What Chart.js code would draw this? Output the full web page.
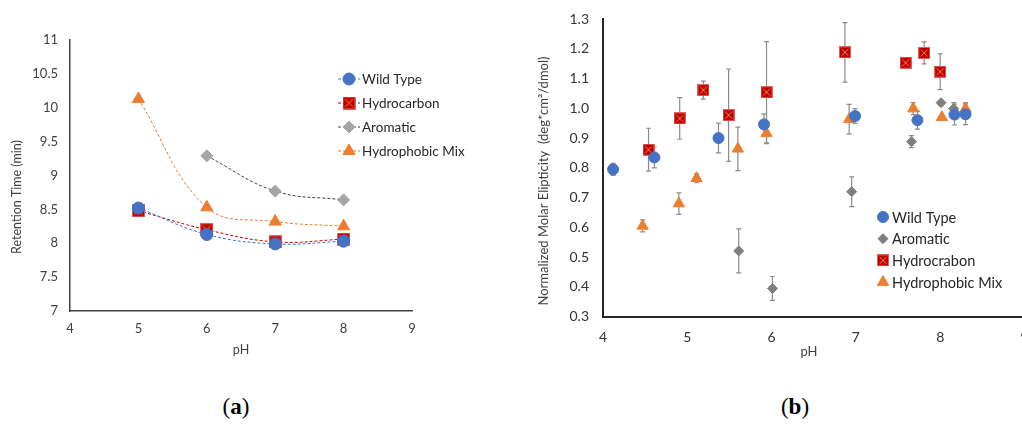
<!DOCTYPE html>
<html>
<head>
<meta charset="utf-8">
<script src="https://cdn.jsdelivr.net/npm/chart.js@4.4.1/dist/chart.umd.min.js"></script>
<style>
body { margin: 0; width: 1022px; height: 432px; overflow: hidden; background: #fff; position: relative; }
#chartA { position: absolute; left: 0; top: 0; width: 480px; height: 370px; }
#chartB { position: absolute; left: 520px; top: 0; width: 512px; height: 370px; }
.cap { position: absolute; top: 394px; width: 60px; text-align: center; font-family: 'Liberation Serif', serif; font-size: 23px; color: #000; }
</style>
</head>
<body>
<canvas id="chartA" width="480" height="370"></canvas>
<canvas id="chartB" width="512" height="370"></canvas>
<div class="cap" style="left:206px">(<b>a</b>)</div>
<div class="cap" style="left:765px">(<b>b</b>)</div>
<script>
// -------------------------------------------------------------------------- Colours

let blue = '#4472C4'
let red = '#C00000'
let orange = '#ED7D31'
let grey = '#A5A5A5'
let darkGrey = '#7F7F7F'

// -------------------------------------------------------------------------- Data (a) retention time

const phA = [5, 6, 7, 8]
const wildA = [8.52, 8.13, 7.99, 8.03]
const wildErrA = [0, 0.08, 0, 0]
const hydroA = [8.48, 8.20, 8.02, 8.06]
const aromA = [null, 9.29, 8.77, 8.64]
const mixA = [10.13, 8.53, 8.32, 8.25]

// -------------------------------------------------------------------------- Data (b) ellipticity

const wildPh = [4.12, 4.61, 5.37, 5.91, 6.99, 7.73, 8.17, 8.30]
const wildCd = [0.795, 0.835, 0.90, 0.946, 0.974, 0.96, 0.979, 0.98]
const wildErr = [0.02, 0.035, 0.05, 0.035, 0.025, 0.03, 0.035, 0.035]

const aromPh = [5.61, 6.01, 6.95, 7.66, 8.01, 8.16]
const aromCd = [0.521, 0.395, 0.72, 0.888, 1.019, 0.999]
const aromErr = [0.074, 0.04, 0.05, 0.02, 0.008, 0.02]

const hydroPh = [4.54, 4.91, 5.19, 5.49, 5.94, 6.87, 7.59, 7.81, 8.00]
const hydroCd = [0.861, 0.966, 1.061, 0.977, 1.054, 1.188, 1.153, 1.186, 1.123]
const hydroErr = [0.072, 0.07, 0.03, 0.155, 0.17, 0.10, 0, 0.037, 0.06]

const mixPh = [4.47, 4.90, 5.11, 5.60, 5.94, 6.92, 7.68, 8.02, 8.30]
const mixCd = [0.605, 0.68, 0.765, 0.864, 0.916, 0.963, 0.999, 0.97, 0.999]
const mixErr = [0.02, 0.036, 0.015, 0.073, 0.035, 0.05, 0.02, 0, 0.02]

// -------------------------------------------------------------------------- Helpers

function points(xs, ys, errs) {
    const out = []
    xs.forEach((x, i) => {
        if (ys[i] !== null) out.push({ x: x, y: ys[i], err: errs ? errs[i] : 0 })
    })
    return out
}

// red square with an x inside, used as a point style
function crossSquare(size) {
    const c = document.createElement('canvas')
    c.width = size
    c.height = size
    const g = c.getContext('2d')
    g.fillStyle = red
    g.fillRect(0, 0, size, size)
    g.strokeStyle = '#E06060'
    g.lineWidth = 1
    g.strokeRect(0.5, 0.5, size - 1, size - 1)
    g.strokeStyle = '#E8883A'
    g.beginPath()
    g.moveTo(2.5, 2.5)
    g.lineTo(size - 2.5, size - 2.5)
    g.moveTo(size - 2.5, 2.5)
    g.lineTo(2.5, size - 2.5)
    g.stroke()
    return c
}

// -------------------------------------------------------------------------- Plugins

const errorBars = {
    id: 'errorBars',
    beforeDatasetsDraw(chart) {
        const ctx = chart.ctx
        const ys = chart.scales.y
        ctx.save()
        ctx.strokeStyle = '#8C8C8C'
        ctx.lineWidth = 1.2
        chart.data.datasets.forEach((ds, i) => {
            const meta = chart.getDatasetMeta(i)
            ds.data.forEach((p, j) => {
                if (!p.err) return
                const el = meta.data[j]
                const top = ys.getPixelForValue(p.y + p.err)
                const bot = ys.getPixelForValue(p.y - p.err)
                ctx.beginPath()
                ctx.moveTo(el.x, top)
                ctx.lineTo(el.x, bot)
                ctx.moveTo(el.x - 2.5, top)
                ctx.lineTo(el.x + 2.5, top)
                ctx.moveTo(el.x - 2.5, bot)
                ctx.lineTo(el.x + 2.5, bot)
                ctx.stroke()
            })
        })
        ctx.restore()
    }
}

const sideLegend = {
    id: 'sideLegend',
    afterDraw(chart, args, opts) {
        const ctx = chart.ctx
        ctx.save()
        ctx.font = opts.font
        ctx.textBaseline = 'middle'
        ctx.fillStyle = '#262626'
        chart.data.datasets.forEach((ds, i) => {
            const y = opts.y + i * opts.gap
            if (opts.line) {
                ctx.save()
                ctx.strokeStyle = ds.borderColor
                ctx.lineWidth = 1
                ctx.setLineDash([3, 2])
                ctx.beginPath()
                ctx.moveTo(opts.x - 11, y)
                ctx.lineTo(opts.x + 11, y)
                ctx.stroke()
                ctx.restore()
            }
            ctx.save()
            ctx.fillStyle = ds.pointBackgroundColor
            ctx.strokeStyle = ds.pointBorderColor
            Chart.helpers.drawPoint(ctx, {
                pointStyle: ds.pointStyle,
                radius: ds.pointRadius,
                rotation: 0,
                borderWidth: 1
            }, opts.x, y)
            ctx.restore()
            ctx.fillText(ds.label, opts.textX, y + 1)
        })
        ctx.restore()
    }
}

const axisTitles = {
    id: 'axisTitles',
    afterDraw(chart, args, opts) {
        const ctx = chart.ctx
        ctx.save()
        ctx.font = opts.font
        ctx.fillStyle = '#404040'
        ctx.textAlign = 'center'
        ctx.textBaseline = 'middle'
        opts.items.forEach(t => {
            ctx.save()
            ctx.translate(t.x, t.y)
            if (t.rot) ctx.rotate(-Math.PI / 2)
            ctx.fillText(t.text, 0, 0)
            ctx.restore()
        })
        ctx.restore()
    }
}

// keep the plot area where the layout padding puts it
function fixX(h) {
    return s => { s.height = h; s.paddingLeft = 0; s.paddingRight = 0 }
}
function fixY(w) {
    return s => { s.width = w; s.paddingTop = 0; s.paddingBottom = 0 }
}

// -------------------------------------------------------------------------- Chart (a)

function lineSet(label, data, color, markerColor, style, radius) {
    return {
        label: label,
        data: data,
        borderColor: color,
        borderWidth: 1,
        borderDash: [3, 2],
        tension: 0.4,
        pointStyle: style,
        pointRadius: radius,
        pointHoverRadius: radius,
        pointBackgroundColor: markerColor,
        pointBorderColor: markerColor,
        pointBorderWidth: 1,
        fill: false
    }
}

const squareA = crossSquare(13)

const configA = {
    type: 'line',
    data: {
        datasets: [
            lineSet('Wild Type', points(phA, wildA, wildErrA), blue, blue, 'circle', 6),
            lineSet('Hydrocarbon', points(phA, hydroA), red, red, squareA, 6),
            lineSet('Aromatic', points(phA, aromA), '#404040', grey, 'rectRot', 6),
            lineSet('Hydrophobic Mix', points(phA, mixA), orange, orange, 'triangle', 7)
        ]
    },
    options: {
        responsive: false,
        animation: false,
        layout: { padding: { left: 0, right: 68, top: 40, bottom: 0 } },
        plugins: {
            legend: { display: false },
            tooltip: { enabled: false },
            sideLegend: { x: 349, textX: 362, y: 79, gap: 24, line: true, font: '13.5px Lato' },
            axisTitles: {
                font: '12.5px Lato',
                items: [
                    { text: 'Retention Time (min)', x: 17, y: 197, rot: true },
                    { text: 'pH', x: 241, y: 350 }
                ]
            }
        },
        scales: {
            x: {
                type: 'linear',
                min: 4,
                max: 9,
                ticks: { stepSize: 1, color: '#404040', font: { family: 'Lato', size: 13 }, padding: 10 },
                grid: { display: false, drawTicks: false },
                border: { color: '#404040', width: 1.5 },
                afterFit: fixX(59)
            },
            y: {
                min: 7,
                max: 11,
                ticks: {
                    stepSize: 0.5,
                    color: '#404040',
                    font: { family: 'Lato', size: 13 },
                    padding: 12,
                    callback: v => String(+v.toFixed(1))
                },
                grid: { display: false, drawTicks: false },
                border: { color: '#404040', width: 1.5 },
                afterFit: fixY(70)
            }
        }
    },
    plugins: [errorBars, sideLegend, axisTitles]
}

// -------------------------------------------------------------------------- Chart (b)

function dotSet(label, data, color, style, radius) {
    return {
        label: label,
        data: data,
        showLine: false,
        pointStyle: style,
        pointRadius: radius,
        pointHoverRadius: radius,
        pointBackgroundColor: color,
        pointBorderColor: color,
        pointBorderWidth: 1
    }
}

const squareB = crossSquare(12)

const configB = {
    type: 'scatter',
    data: {
        datasets: [
            dotSet('Wild Type', points(wildPh, wildCd, wildErr), blue, 'circle', 5.5),
            dotSet('Aromatic', points(aromPh, aromCd, aromErr), darkGrey, 'rectRot', 5),
            dotSet('Hydrocrabon', points(hydroPh, hydroCd, hydroErr), red, squareB, 6),
            dotSet('Hydrophobic Mix', points(mixPh, mixCd, mixErr), orange, 'triangle', 6.5)
        ]
    },
    options: {
        responsive: false,
        animation: false,
        layout: { padding: { left: 0, right: 6.5, top: 19, bottom: 0 } },
        plugins: {
            legend: { display: false },
            tooltip: { enabled: false },
            sideLegend: { x: 363, textX: 372, y: 217, gap: 21.7, line: false, font: '14.5px Lato' },
            axisTitles: {
                font: '13px Lato',
                items: [
                    { text: 'Normalized Molar Elipticity  (deg*cm\u00b2/dmol)', x: 24, y: 181, rot: true },
                    { text: 'pH', x: 289, y: 352 }
                ]
            }
        },
        scales: {
            x: {
                type: 'linear',
                min: 4,
                max: 9,
                ticks: { stepSize: 1, color: '#333', font: { family: 'Lato', size: 14 }, padding: 12 },
                grid: { display: false, drawTicks: false },
                border: { color: '#262626', width: 2 },
                afterFit: fixX(53.3)
            },
            y: {
                min: 0.3,
                max: 1.3,
                ticks: {
                    stepSize: 0.1,
                    color: '#333',
                    font: { family: 'Lato', size: 14 },
                    padding: 14,
                    callback: v => v.toFixed(1)
                },
                grid: { display: false, drawTicks: false },
                border: { color: '#262626', width: 2 },
                afterFit: fixY(83)
            }
        }
    },
    plugins: [errorBars, sideLegend, axisTitles]
}

// -------------------------------------------------------------------------- Render Charts

let chartA = new Chart(document.getElementById('chartA'), configA)
let chartB = new Chart(document.getElementById('chartB'), configB)
</script>
</body>
</html>
